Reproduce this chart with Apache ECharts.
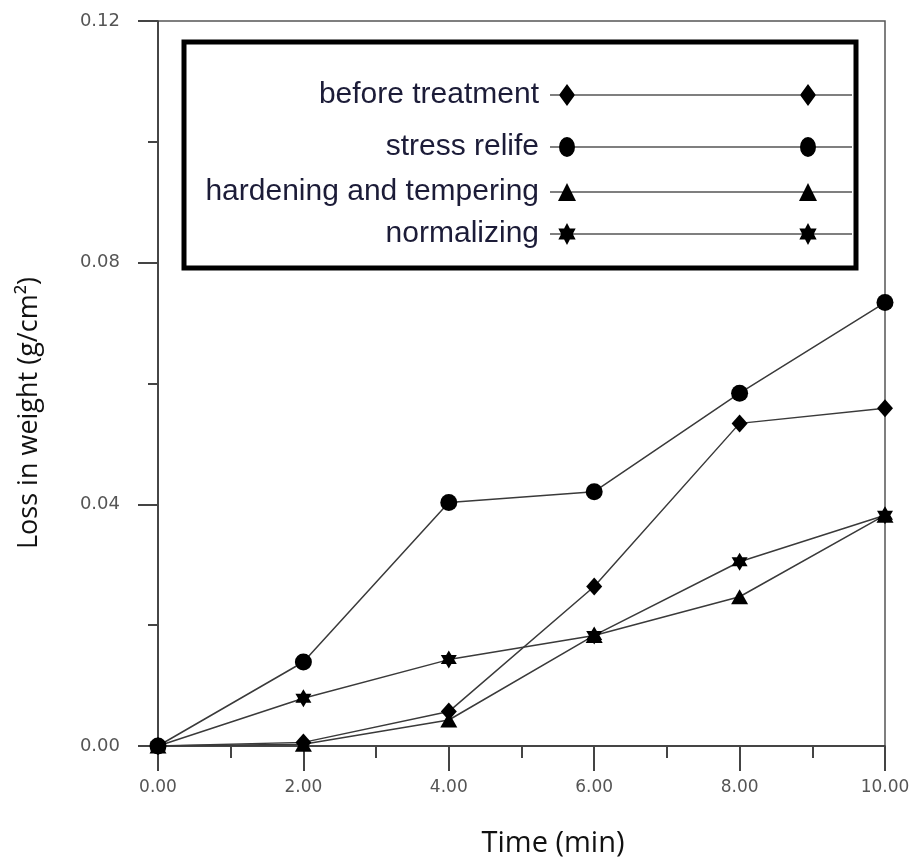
<!DOCTYPE html>
<html>
<head>
<meta charset="utf-8">
<script src="https://cdn.jsdelivr.net/npm/echarts@6/dist/echarts.min.js"></script>
<style>
  html, body { margin: 0; padding: 0; background: #fff; }
  #main { width: 911px; height: 861px; }
</style>
</head>
<body>
<div id="main"></div>
<script>
// data
var times = [0, 2, 4, 6, 8, 10];
var beforeTreatment = [0, 0.0006, 0.0057, 0.0264, 0.0534, 0.0559];
var stressRelife    = [0, 0.0139, 0.0403, 0.0421, 0.0584, 0.0734];
var hardening       = [0, 0.0003, 0.0043, 0.0183, 0.0247, 0.0382];
var normalizing     = [0, 0.0079, 0.0143, 0.0183, 0.0305, 0.0382];
var seriesNames = ['before treatment', 'stress relife', 'hardening and tempering', 'normalizing'];
var xTicks = [0, 2, 4, 6, 8, 10];
var yTicks = [0, 0.04, 0.08, 0.12];

var myChart = echarts.init(document.getElementById('main'));

function pairs(vals) {
    return times.map(function (t, i) { return [t, vals[i]]; });
}

// six-pointed star marker
var starPath = 'path://M10 0 L12.887 5 L18.66 5 L15.774 10 L18.66 15 L12.887 15 L10 20 L7.113 15 L1.34 15 L4.226 10 L1.34 5 L7.113 5 Z';

// legend icons: a line with a marker near each end
var W = 302, H = 22, c1 = 17, c2 = 258;
function lineRect() {
    return 'M0 10.4 L' + W + ' 10.4 L' + W + ' 11.6 L0 11.6 Z ';
}
function diamond(cx) {
    return 'M' + cx + ' 0 L' + (cx + 8) + ' 11 L' + cx + ' 22 L' + (cx - 8) + ' 11 Z ';
}
function ellipse(cx) {
    return 'M' + (cx - 8) + ' 11 A8 10 0 1 1 ' + (cx + 8) + ' 11 A8 10 0 1 1 ' + (cx - 8) + ' 11 Z ';
}
function triangle(cx) {
    return 'M' + cx + ' 2 L' + (cx + 9) + ' 20 L' + (cx - 9) + ' 20 Z ';
}
function star(cx) {
    var pts = [[0, -1], [0.2887, -0.5], [0.866, -0.5], [0.5774, 0], [0.866, 0.5], [0.2887, 0.5],
               [0, 1], [-0.2887, 0.5], [-0.866, 0.5], [-0.5774, 0], [-0.866, -0.5], [-0.2887, -0.5]];
    return pts.map(function (p, i) {
        return (i ? 'L' : 'M') + (cx + p[0] * 10).toFixed(2) + ' ' + (11 + p[1] * 11).toFixed(2);
    }).join(' ') + ' Z ';
}
var legendIcons = [
    'path://' + lineRect() + diamond(c1) + diamond(c2),
    'path://' + lineRect() + ellipse(c1) + ellipse(c2),
    'path://' + lineRect() + triangle(c1) + triangle(c2),
    'path://' + lineRect() + star(c1) + star(c2)
];
var legendRowTop = [80, 132, 177, 219];

var legends = seriesNames.map(function (name, i) {
    return {
        data: [{ name: name, icon: legendIcons[i] }],
        right: 59,
        top: legendRowTop[i],
        padding: 0,
        align: 'right',
        orient: 'vertical',
        selectedMode: false,
        itemWidth: W,
        itemHeight: H,
        itemStyle: { borderWidth: 0 },
        textStyle: {
            fontFamily: 'Liberation Sans, Arial, sans-serif',
            fontSize: 30,
            color: '#1c1c38',
            padding: [0, 6, 0, 0]
        }
    };
});

var lineStyle = { color: '#3a3a3a', width: 1.5 };
var itemStyle = { color: '#000', borderWidth: 0 };

option = {
    backgroundColor: '#fff',
    animation: false,
    grid: {
        left: 158, right: 26, top: 21, bottom: 115,
        outerBoundsMode: 'none',
        show: true, borderColor: '#555', borderWidth: 1.5
    },
    legend: legends,
    graphic: [{
        type: 'rect',
        shape: { x: 184, y: 42, width: 672, height: 226 },
        style: { fill: 'none', stroke: '#000', lineWidth: 5 },
        z: 10
    }],
    xAxis: {
        type: 'value',
        min: xTicks[0], max: xTicks[xTicks.length - 1], interval: 2,
        name: 'Time (min)',
        nameLocation: 'middle',
        nameGap: 83,
        nameTextStyle: { fontFamily: 'Open Sans', fontSize: 29, color: '#111', padding: [0, 0, 0, 63] },
        axisLine: { lineStyle: { color: '#333', width: 1.5 } },
        axisTick: { inside: false, length: 25, lineStyle: { color: '#444', width: 2 } },
        minorTick: { show: true, splitNumber: 2, length: 12, lineStyle: { color: '#444', width: 2 } },
        splitLine: { show: false },
        axisLabel: {
            margin: 33, fontFamily: 'DejaVu Sans', fontSize: 17, color: '#555',
            formatter: function (v) { return v.toFixed(2); }
        }
    },
    yAxis: {
        type: 'value',
        min: yTicks[0], max: yTicks[yTicks.length - 1], interval: 0.04,
        name: 'Loss in weight (g/cm\u00b2)',
        nameLocation: 'middle',
        nameGap: 115,
        nameTextStyle: { fontFamily: 'Open Sans', fontSize: 27, color: '#111', padding: [0, 59, 0, 0] },
        axisLine: { lineStyle: { color: '#333', width: 1.5 } },
        axisTick: { inside: false, length: 20, lineStyle: { color: '#444', width: 2 } },
        minorTick: { show: true, splitNumber: 2, length: 10, lineStyle: { color: '#444', width: 2 } },
        splitLine: { show: false },
        axisLabel: {
            margin: 38, fontFamily: 'DejaVu Sans', fontSize: 18, color: '#555',
            formatter: function (v) { return v.toFixed(2); }
        }
    },
    series: [
        { name: seriesNames[0], type: 'line', data: pairs(beforeTreatment), symbol: 'diamond', symbolSize: [16, 18], lineStyle: lineStyle, itemStyle: itemStyle },
        { name: seriesNames[1], type: 'line', data: pairs(stressRelife), symbol: 'circle', symbolSize: 17, lineStyle: lineStyle, itemStyle: itemStyle },
        { name: seriesNames[2], type: 'line', data: pairs(hardening), symbol: 'triangle', symbolSize: [17, 15], lineStyle: lineStyle, itemStyle: itemStyle },
        { name: seriesNames[3], type: 'line', data: pairs(normalizing), symbol: starPath, symbolSize: [16, 18], lineStyle: lineStyle, itemStyle: itemStyle }
    ]
};

myChart.setOption(option, true);
</script>
</body>
</html>
